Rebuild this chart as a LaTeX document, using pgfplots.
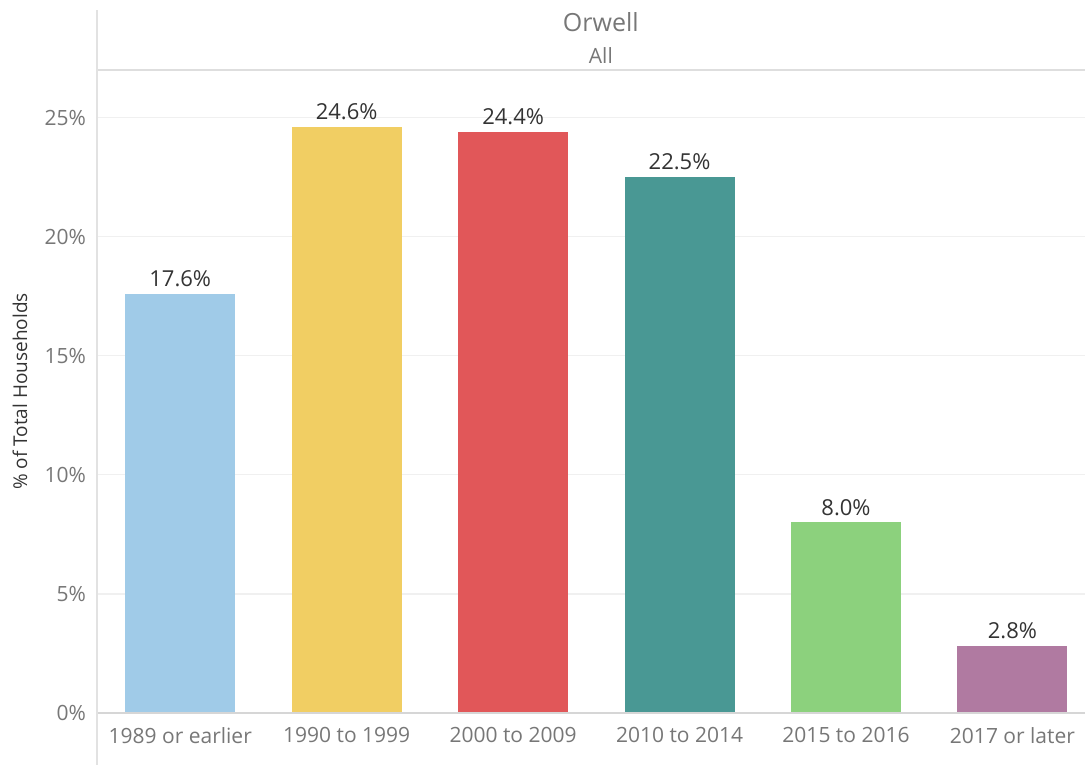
\documentclass[border=0pt]{standalone}
\usepackage{pgfplots}
\pgfplotsset{compat=1.18}
\usepackage{fontspec}
\setmainfont{Open Sans}
\definecolor{cblue}{HTML}{A0CBE8}
\definecolor{cyellow}{HTML}{F1CE63}
\definecolor{cred}{HTML}{E15759}
\definecolor{cteal}{HTML}{499894}
\definecolor{cgreen}{HTML}{8CD17D}
\definecolor{cpurple}{HTML}{B07AA1}
\definecolor{ticktext}{HTML}{777777}
\definecolor{labeltext}{HTML}{333333}
\definecolor{gridc}{HTML}{F0F0F0}
\definecolor{linec}{HTML}{D6D6D6}
\begin{document}
\begin{tikzpicture}
\useasboundingbox (-48.5pt,-26pt) rectangle (494pt,356.5pt);
\begin{axis}[
  at={(0,0)}, anchor=south west,
  scale only axis, width=494pt, height=321.5pt,
  xmin=-0.5, xmax=5.436, ymin=0, ymax=27,
  ybar, bar width=55pt, bar shift=0pt,
  axis line style={draw=none},
  clip=false,
  xtick={0,1,2,3,4,5},
  xticklabels={1989 or earlier,1990 to 1999,2000 to 2009,2010 to 2014,2015 to 2016,2017 or later},
  ytick={0,5,10,15,20,25},
  yticklabel={\pgfmathprintnumber{\tick}\%},
  /pgf/number format/assume math mode=true,
  major tick length=0pt,
  ymajorgrids, grid style={gridc, line width=0.6pt},
  xticklabel style={font=\fontsize{10.5}{12}\selectfont, text=ticktext, yshift=-3.5pt},
  yticklabel style={font=\fontsize{10.5}{12}\selectfont, text=ticktext, xshift=-2pt},
  ylabel={\% of Total Households},
  every axis y label/.style={at={(axis description cs:-0.078,0.5)}, rotate=90, anchor=center, font=\fontsize{9.5}{11}\selectfont, text=labeltext},
  nodes near coords={\pgfmathprintnumber[fixed,fixed zerofill,precision=1]{\pgfplotspointmeta}\%},
  every node near coord/.append style={font=\fontsize{11}{13}\selectfont, text=labeltext, /pgf/number format/assume math mode=true},
]
\addplot[fill=cblue, draw=none] coordinates {(0,17.6)};
\addplot[fill=cyellow, draw=none] coordinates {(1,24.6)};
\addplot[fill=cred, draw=none] coordinates {(2,24.4)};
\addplot[fill=cteal, draw=none] coordinates {(3,22.5)};
\addplot[fill=cgreen, draw=none] coordinates {(4,8.0)};
\addplot[fill=cpurple, draw=none] coordinates {(5,2.8)};
\draw[linec, line width=0.7pt] (rel axis cs:0,0) -- (rel axis cs:1,0);
\draw[linec!80, line width=0.6pt] (rel axis cs:0,1) -- (rel axis cs:1,1);
\draw[linec!70, line width=0.6pt] (rel axis cs:0,-0.081) -- (rel axis cs:0,1.093);
\node[font=\fontsize{12.5}{14}\selectfont, text=ticktext] at (rel axis cs:0.51,1.0747) {Orwell};
\node[font=\fontsize{10.5}{12}\selectfont, text=ticktext] at (rel axis cs:0.51,1.0225) {All};
\end{axis}
\end{tikzpicture}
\end{document}
